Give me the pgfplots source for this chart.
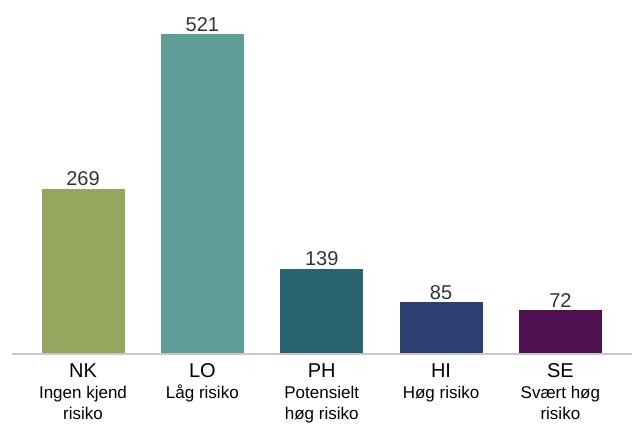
\documentclass[border=0pt]{standalone}
\usepackage{pgfplots}
\pgfplotsset{compat=1.18}
\usepackage{fontspec}
\setmainfont{Liberation Sans}
\definecolor{cNK}{HTML}{97A65E}
\definecolor{cLO}{HTML}{5E9E96}
\definecolor{cPH}{HTML}{27646F}
\definecolor{cHI}{HTML}{2D3F71}
\definecolor{cSE}{HTML}{4F1151}
\definecolor{txt}{HTML}{333333}
\begin{document}
\begin{tikzpicture}[x=1pt,y=1pt]
\path[use as bounding box] (0,0) rectangle (640,427);
\begin{axis}[
  at={(12pt,73pt)}, anchor=south west,
  scale only axis, width=620pt, height=354pt,
  xmin=-0.595, xmax=4.6, ymin=0, ymax=576,
  ybar, bar width=83pt, bar shift=0pt,
  axis line style={draw=none},
  axis x line*=bottom,
  ytick=\empty,
  xtick={0,1,2,3,4},
  xticklabels={
    {{\fontsize{20}{21}\selectfont NK}\\Ingen kjend\\risiko},
    {{\fontsize{20}{21}\selectfont LO}\\Låg risiko},
    {{\fontsize{20}{21}\selectfont PH}\\Potensielt\\høg risiko},
    {{\fontsize{20}{21}\selectfont HI}\\Høg risiko},
    {{\fontsize{20}{21}\selectfont SE}\\Svært høg\\risiko}},
  xticklabel style={align=center, font=\fontsize{17}{21}\selectfont, text=black, anchor=north, yshift=-6pt},
  major tick length=0pt,
  nodes near coords,
  /pgf/number format/assume math mode=true,
  every node near coord/.append style={font=\fontsize{20}{22}\selectfont, text=txt, yshift=-1pt},
  clip=false,
]
\addplot[fill=cNK, draw=none] coordinates {(0,269)};
\addplot[fill=cLO, draw=none] coordinates {(1,521)};
\addplot[fill=cPH, draw=none] coordinates {(2,139)};
\addplot[fill=cHI, draw=none] coordinates {(3,85)};
\addplot[fill=cSE, draw=none] coordinates {(4,72)};
\draw[color=black!22, line width=1.2pt] (axis cs:-0.595,0) -- (axis cs:4.6,0);
\end{axis}
\end{tikzpicture}
\end{document}
